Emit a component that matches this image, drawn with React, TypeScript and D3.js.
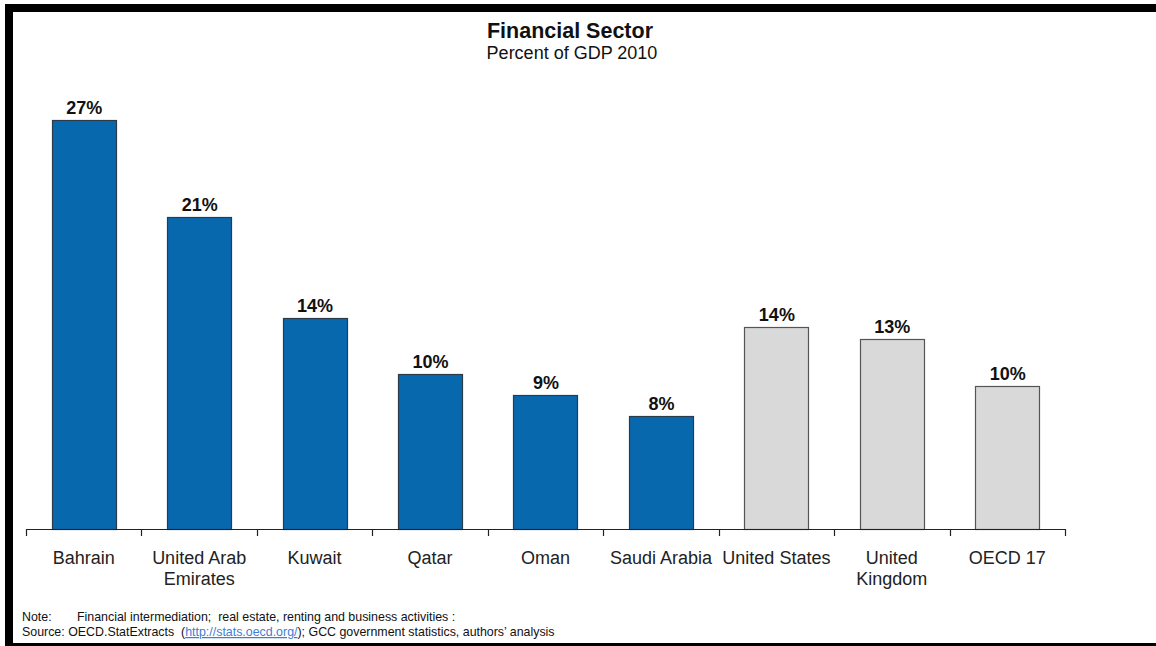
import React, { useEffect, useRef } from 'react';
import * as d3 from 'd3';

const categories = ['Bahrain', 'United Arab Emirates', 'Kuwait', 'Qatar', 'Oman', 'Saudi Arabia', 'United States', 'United Kingdom', 'OECD 17'];
const categoryLines = [['Bahrain'], ['United Arab', 'Emirates'], ['Kuwait'], ['Qatar'], ['Oman'], ['Saudi Arabia'], ['United States'], ['United', 'Kingdom'], ['OECD 17']];
const values = [27.4, 20.9, 14.1, 10.4, 9.0, 7.6, 13.5, 12.7, 9.6];
const isGcc = [true, true, true, true, true, true, false, false, false];

const App: React.FC = () => {
  const svgRef = useRef<SVGSVGElement>(null);

  useEffect(() => {
    const svg = d3.select(svgRef.current);
    svg.selectAll('*').remove();

    const W = 1156;
    const H = 646;
    const font = 'Arial, "Liberation Sans", sans-serif';

    svg.append('rect').attr('width', W).attr('height', H).attr('fill', '#fff');

    // frame of the surrounding page figure
    svg.append('rect').attr('x', 5).attr('y', 4).attr('width', W - 5).attr('height', 8).attr('fill', '#000');
    svg.append('rect').attr('x', 5).attr('y', 4).attr('width', 8).attr('height', H - 4).attr('fill', '#000');
    svg.append('rect').attr('x', 5).attr('y', 643).attr('width', W - 5).attr('height', 3).attr('fill', '#000');

    // titles
    svg.append('text').attr('x', 570).attr('y', 38).attr('text-anchor', 'middle')
      .attr('font-family', font).attr('font-size', 21.5).attr('font-weight', 'bold').attr('fill', '#111')
      .text('Financial Sector');
    svg.append('text').attr('x', 572).attr('y', 59).attr('text-anchor', 'middle')
      .attr('font-family', font).attr('font-size', 18).attr('fill', '#111')
      .text('Percent of GDP 2010');

    const left = 26;
    const right = 1065;
    const base = 529;

    const xStep = d3.scaleBand<string>().domain(categories).range([left, right]).padding(0);
    const x = d3.scaleBand<string>().domain(categories).range([left, right]).paddingInner(0.445).paddingOuter(0.2225);
    const y = d3.scaleLinear().domain([0, 30]).range([base, 81]);

    const g = svg.append('g');

    g.selectAll('.bar')
      .data(categories)
      .enter().append('rect')
      .attr('class', 'bar')
      .attr('x', d => Math.round(x(d)!) + 0.5)
      .attr('y', (d, i) => Math.round(y(values[i])) + 0.5)
      .attr('width', Math.round(x.bandwidth()))
      .attr('height', (d, i) => base - Math.round(y(values[i])))
      .attr('fill', (d, i) => (isGcc[i] ? '#0868AE' : '#D9D9D9'))
      .attr('stroke', (d, i) => (isGcc[i] ? '#2b3b4a' : '#555'))
      .attr('stroke-width', 1.2);

    g.selectAll('.val')
      .data(categories)
      .enter().append('text')
      .attr('x', d => x(d)! + x.bandwidth() / 2 + 0.5)
      .attr('y', (d, i) => y(values[i]) - 6)
      .attr('text-anchor', 'middle')
      .attr('font-family', font).attr('font-size', 18).attr('font-weight', 'bold').attr('fill', '#111')
      .text((d, i) => `${Math.round(values[i])}%`);

    // axis
    g.append('line').attr('x1', left).attr('x2', right).attr('y1', base + 0.5).attr('y2', base + 0.5)
      .attr('stroke', '#222').attr('stroke-width', 1.2);
    const ticks = categories.map(c => xStep(c)!).concat([right]);
    g.selectAll('.tick')
      .data(ticks)
      .enter().append('line')
      .attr('x1', d => Math.round(d) + 0.5).attr('x2', d => Math.round(d) + 0.5)
      .attr('y1', base).attr('y2', base + 7)
      .attr('stroke', '#222').attr('stroke-width', 1.2);

    const cat = g.selectAll('.cat')
      .data(categories)
      .enter().append('text')
      .attr('text-anchor', 'middle')
      .attr('font-family', font).attr('font-size', 18).attr('fill', '#222');
    cat.each(function (d, i) {
      const t = d3.select(this);
      categoryLines[i].forEach((line, j) => {
        t.append('tspan').attr('x', xStep(d)! + xStep.bandwidth() / 2).attr('y', 564 + j * 21).text(line);
      });
    });

    // footnotes
    const nf = { family: font, size: 12.4 };
    svg.append('text').attr('x', 22).attr('y', 621).attr('font-family', nf.family).attr('font-size', nf.size).attr('fill', '#111').text('Note:');
    svg.append('text').attr('x', 77).attr('y', 621).attr('font-family', nf.family).attr('font-size', nf.size).attr('fill', '#111')
      .attr('xml:space', 'preserve').style('white-space', 'pre')
      .text('Financial intermediation;  real estate, renting and business activities :');
    const src = svg.append('text').attr('x', 22).attr('y', 636).attr('font-family', nf.family).attr('font-size', nf.size).attr('fill', '#111')
      .style('white-space', 'pre');
    src.append('tspan').text('Source: OECD.StatExtracts  (');
    src.append('tspan').attr('fill', '#3b7fd4').attr('text-decoration', 'underline').text('http://stats.oecd.org/');
    src.append('tspan').text('); GCC government statistics, authors\u2019 analysis');
  }, []);

  return (
    <svg ref={svgRef} width={1156} height={646} style={{ position: 'absolute', left: 0, top: 0, display: 'block' }}></svg>
  );
};

export default App;
